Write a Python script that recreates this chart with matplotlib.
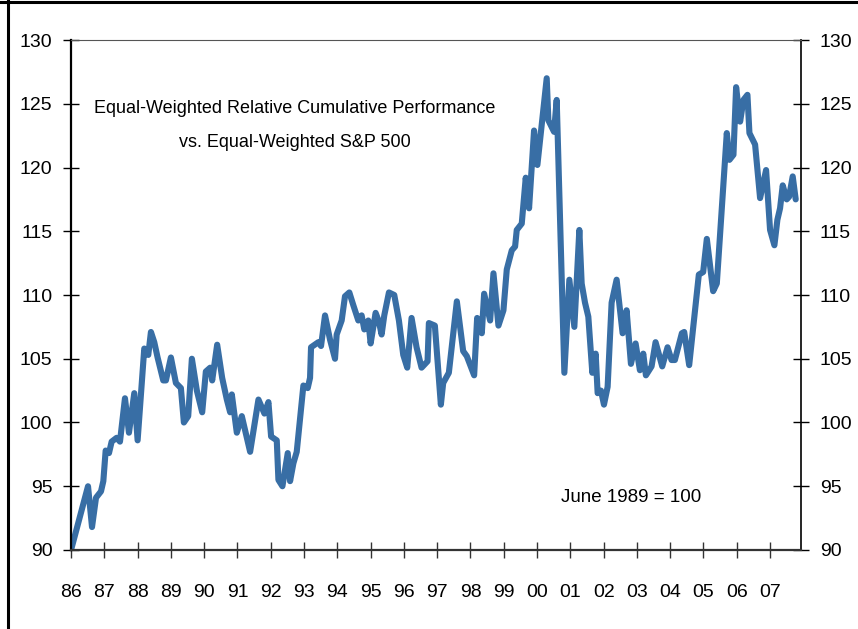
import numpy as np
import matplotlib
matplotlib.use('Agg')
import matplotlib.pyplot as plt
from matplotlib.lines import Line2D

plt.rcParams['font.family'] = ['Liberation Sans', 'DejaVu Sans']

# relative cumulative performance (decimal year, index)
years = [1986.00, 1986.51, 1986.63, 1986.75, 1986.90, 1986.97, 1987.04, 1987.14, 1987.22, 1987.37,
         1987.47, 1987.62, 1987.74, 1987.90, 1988.00, 1988.20, 1988.32, 1988.40, 1988.50, 1988.60,
         1988.77, 1988.85, 1989.00, 1989.15, 1989.30, 1989.39, 1989.52, 1989.63, 1989.78, 1989.94,
         1990.05, 1990.18, 1990.24, 1990.39, 1990.54, 1990.68, 1990.78, 1990.83, 1990.98, 1991.13,
         1991.38, 1991.63, 1991.81, 1991.93, 1992.01, 1992.18, 1992.23, 1992.35, 1992.51, 1992.58,
         1992.68, 1992.78, 1992.98, 1993.11, 1993.18, 1993.21, 1993.43, 1993.51, 1993.63, 1993.78,
         1993.93, 1993.98, 1994.13, 1994.23, 1994.36, 1994.48, 1994.63, 1994.73, 1994.81, 1994.93,
         1995.00, 1995.15, 1995.25, 1995.33, 1995.41, 1995.55, 1995.71, 1995.85, 1995.98, 1996.10,
         1996.23, 1996.38, 1996.53, 1996.71, 1996.75, 1996.93, 1997.11, 1997.18, 1997.35, 1997.59,
         1997.78, 1997.89, 1998.11, 1998.20, 1998.34, 1998.41, 1998.59, 1998.69, 1998.84, 1998.99,
         1999.09, 1999.24, 1999.34, 1999.39, 1999.54, 1999.66, 1999.76, 1999.91, 2000.01, 2000.29,
         2000.34, 2000.51, 2000.59, 2000.82, 2000.97, 2001.12, 2001.27, 2001.34, 2001.44, 2001.54,
         2001.66, 2001.76, 2001.82, 2001.92, 2002.01, 2002.12, 2002.24, 2002.39, 2002.57, 2002.69,
         2002.82, 2002.96, 2003.09, 2003.19, 2003.27, 2003.44, 2003.56, 2003.76, 2003.92, 2004.04,
         2004.14, 2004.35, 2004.42, 2004.57, 2004.86, 2004.99, 2005.10, 2005.29, 2005.40, 2005.70,
         2005.78, 2005.90, 2005.98, 2006.10, 2006.20, 2006.32, 2006.38, 2006.55, 2006.70, 2006.88,
         2007.00, 2007.13, 2007.22, 2007.30, 2007.38, 2007.50, 2007.57, 2007.68, 2007.77]
perf = [90.0, 95.0, 91.8, 94.1, 94.6, 95.4, 97.8, 97.6, 98.5, 98.8,
        98.5, 101.9, 99.2, 102.3, 98.6, 105.8, 105.3, 107.1, 106.3, 105.1,
        103.3, 103.3, 105.1, 103.1, 102.7, 100.0, 100.5, 105.0, 102.5, 100.8,
        104.0, 104.3, 103.3, 106.1, 103.5, 101.8, 100.8, 102.2, 99.2, 100.5,
        97.7, 101.8, 100.7, 101.6, 98.9, 98.6, 95.5, 95.0, 97.6, 95.4,
        96.8, 97.7, 102.9, 102.7, 103.5, 105.9, 106.3, 106.0, 108.4, 106.5,
        105.0, 106.9, 108.0, 109.9, 110.2, 109.2, 108.0, 108.4, 107.3, 108.0,
        106.2, 108.6, 107.9, 106.9, 108.4, 110.2, 110.0, 108.0, 105.3, 104.3,
        108.2, 105.9, 104.3, 104.8, 107.8, 107.6, 101.4, 103.1, 103.9, 109.5,
        105.6, 105.2, 103.7, 108.2, 107.0, 110.1, 108.0, 111.7, 107.6, 108.8,
        112.0, 113.5, 113.8, 115.1, 115.6, 119.2, 116.8, 122.9, 120.2, 127.0,
        123.7, 122.8, 125.3, 103.9, 111.2, 107.5, 115.1, 110.9, 109.4, 108.3,
        103.9, 105.4, 102.3, 102.5, 101.4, 102.8, 109.4, 111.2, 107.0, 108.8,
        104.6, 106.2, 104.1, 105.4, 103.7, 104.4, 106.3, 104.4, 105.9, 104.9,
        104.9, 107.0, 107.1, 104.5, 111.6, 111.8, 114.4, 110.3, 110.9, 122.7,
        120.6, 121.0, 126.3, 123.6, 125.3, 125.7, 122.7, 121.8, 117.6, 119.8,
        115.1, 113.9, 115.9, 116.8, 118.6, 117.5, 117.7, 119.3, 117.5]

year_ticks = list(range(1986, 2008))
year_labels = ['%02d' % (y % 100) for y in year_ticks]
y_ticks = [90, 95, 100, 105, 110, 115, 120, 125, 130]

fig = plt.figure(figsize=(8.58, 6.29), dpi=100)
ax = fig.add_axes([0.0828, 0.1256, 0.8508, 0.8108])

ax.plot(years, perf, color='#386ea5', lw=4.4, solid_joinstyle='round', solid_capstyle='round')

ax.set_xlim(1986, 2007.93)
ax.set_ylim(90, 130)
ax.set_xticks(year_ticks)
ax.set_xticklabels(year_labels)
ax.set_yticks(y_ticks)

ax.tick_params(axis='y', direction='inout', length=11, width=1.0, colors='black',
               labelsize=14, right=True, labelright=True, pad=8)
ax.tick_params(axis='x', direction='inout', length=11, width=1.0, color='#333333',
               labelcolor='black', labelsize=14, pad=19)

ax.spines['left'].set_linewidth(1.6)
ax.spines['left'].set_color('black')
ax.spines['right'].set_linewidth(1.2)
ax.spines['right'].set_color('black')
ax.spines['bottom'].set_linewidth(1.6)
ax.spines['bottom'].set_color('#333333')
ax.spines['top'].set_linewidth(0.8)
ax.spines['top'].set_color('#555555')

ax.text(0.307, 0.833, 'Equal-Weighted Relative Cumulative Performance\nvs. Equal-Weighted S&P 500',
        transform=ax.transAxes, ha='center', va='center', fontsize=13, linespacing=2.3)
ax.text(0.767, 0.103, 'June 1989 = 100', transform=ax.transAxes, ha='center', va='center',
        fontsize=13.5)

# frame lines at top and left of the picture
fig.add_artist(Line2D([0.0093, 0.0093], [0, 1], transform=fig.transFigure, color='black', lw=2.2))
fig.add_artist(Line2D([0, 1], [0.9975, 0.9975], transform=fig.transFigure, color='black', lw=2.2))

fig.savefig('out.png', dpi=100)
